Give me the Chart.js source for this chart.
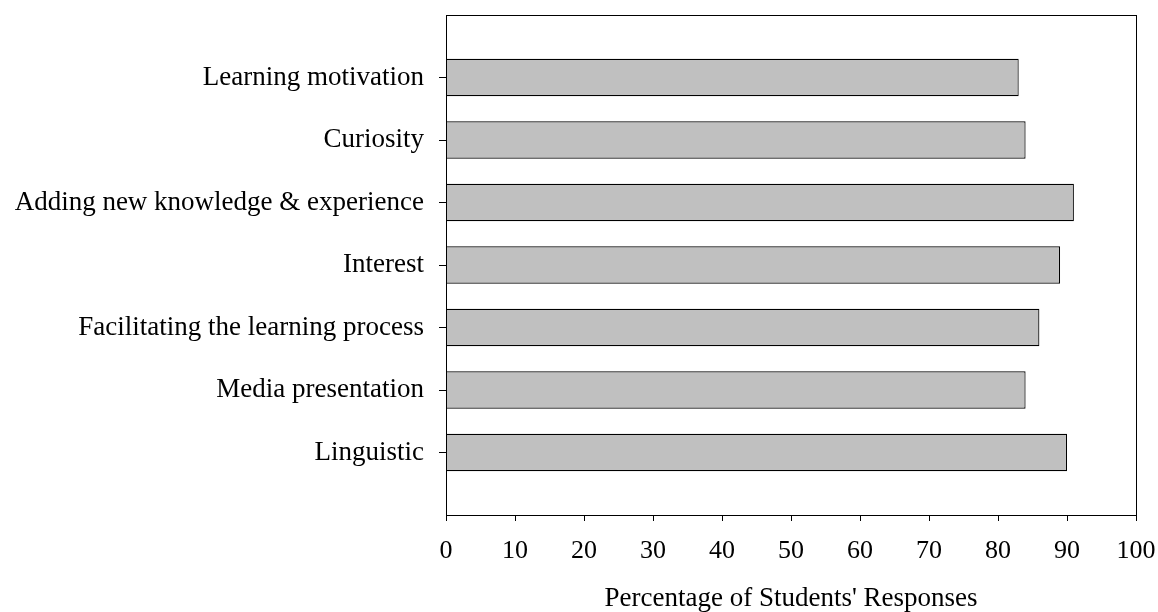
<!DOCTYPE html>
<html>
<head>
<meta charset="utf-8">
<script src="https://cdn.jsdelivr.net/npm/chart.js@4.4.1/dist/chart.umd.min.js"></script>
<style>
  html, body { margin: 0; padding: 0; background: #fff; }
  #wrap { width: 1158px; height: 612px; }
</style>
</head>
<body>
<div id="wrap"><canvas id="chart" width="1158" height="612"></canvas></div>
<script>
// ── Data ──────────────────────────────────────────────────────────────────────
// blank entries at both ends leave an empty slot above and below the bars
const CATEGORIES = [
  '',
  'Learning motivation',
  'Curiosity',
  'Adding new knowledge & experience',
  'Interest',
  'Facilitating the learning process',
  'Media presentation',
  'Linguistic',
  ''
]
const RESPONSES = [null, 83, 84, 91, 89, 86, 84, 90, null]
const X_TICKS = [0, 10, 20, 30, 40, 50, 60, 70, 80, 90, 100]

const FONT = "'Liberation Serif', 'Times New Roman', serif"

// box around the plotting area
const frame = {
  id: 'frame',
  afterDatasetsDraw(chart) {
    const { ctx, chartArea: a } = chart
    ctx.save()
    ctx.strokeStyle = '#000'
    ctx.lineWidth = 1
    ctx.strokeRect(a.left + 0.5, a.top + 0.5, a.right - a.left, a.bottom - a.top)
    ctx.restore()
  }
}

// keep label overhang out of the layout so the plot box sits where padding says
function noOverhang(s) {
  s.paddingLeft = 0
  s.paddingRight = 0
  s.paddingTop = 0
  s.paddingBottom = 0
}

new Chart(document.getElementById('chart'), {
  type: 'bar',
  data: {
    labels: CATEGORIES,
    datasets: [{
      data: RESPONSES,
      backgroundColor: '#c0c0c0',
      borderColor: '#000',
      borderWidth: 1.2,
      categoryPercentage: 0.6,
      barPercentage: 1
    }]
  },
  plugins: [frame],
  options: {
    indexAxis: 'y',
    responsive: false,
    animation: false,
    layout: { padding: { top: 15, right: 22, bottom: 0, left: 0 } },
    plugins: {
      legend: { display: false },
      tooltip: { enabled: false }
    },
    scales: {
      x: {
        min: 0,
        max: 100,
        afterBuildTicks: s => { s.ticks = X_TICKS.map(v => ({ value: v })) },
        afterFit: s => { noOverhang(s); s.height = 97 },
        border: { display: true, color: '#000', width: 1 },
        grid: { drawOnChartArea: false, drawTicks: true, tickLength: 6, color: '#000' },
        ticks: { color: '#000', padding: 15, maxRotation: 0, font: { family: FONT, size: 26 } },
        title: {
          display: true,
          text: "Percentage of Students' Responses",
          color: '#000',
          padding: { top: 6, bottom: 0 },
          font: { family: FONT, size: 27, lineHeight: 1 }
        }
      },
      y: {
        offset: false,
        afterFit: s => { noOverhang(s); s.width = 446 },
        border: { display: true, color: '#000', width: 1 },
        grid: {
          offset: false,
          drawOnChartArea: false,
          drawTicks: true,
          tickLength: 7,
          tickColor: c => (CATEGORIES[c.index] ? '#000' : 'rgba(0,0,0,0)')
        },
        ticks: { color: '#000', padding: 15, autoSkip: false, font: { family: FONT, size: 27 } }
      }
    }
  }
})
</script>
</body>
</html>
